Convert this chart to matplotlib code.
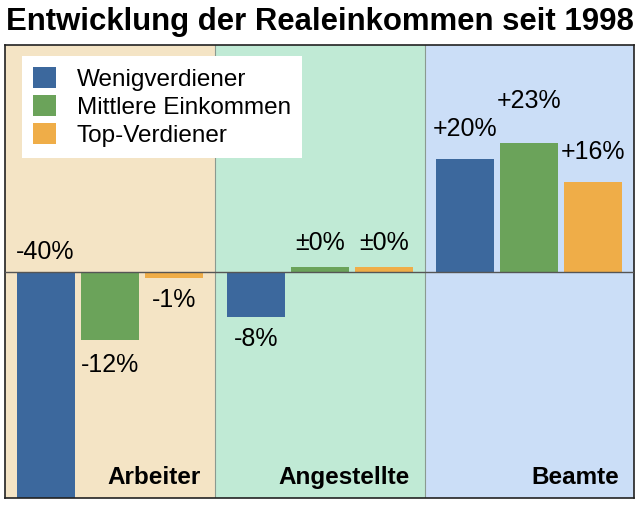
import numpy as np
import matplotlib
matplotlib.use('Agg')
import matplotlib.pyplot as plt

# 数据
gruppen = ['Arbeiter', 'Angestellte', 'Beamte']
serien = ['Wenigverdiener', 'Mittlere Einkommen', 'Top-Verdiener']
werte = {
    'Wenigverdiener': [-40, -8, 20],
    'Mittlere Einkommen': [-12, 0, 23],
    'Top-Verdiener': [-1, 0, 16],
}
labels = {
    'Wenigverdiener': ['-40%', '-8%', '+20%'],
    'Mittlere Einkommen': ['-12%', '±0%', '+23%'],
    'Top-Verdiener': ['-1%', '±0%', '+16%'],
}

farben = ['#3c689d', '#6ba35a', '#efad48']
hintergrund = ['#f4e4c5', '#c0ead5', '#cbdef7']

plt.rcParams['font.family'] = ['Liberation Sans', 'DejaVu Sans']

fig = plt.figure(figsize=(6.4, 5.05), dpi=100)
ax = fig.add_axes([0.008, 0.014, 0.983, 0.897])

x = np.arange(len(gruppen))
breite = 0.277
abstand = 0.305
px = 0.72  # Pixel -> Punkte bei 100 dpi

# 背景区域
for i, c in enumerate(hintergrund):
    ax.axvspan(i - 0.5, i + 0.5, color=c, zorder=0, lw=0)
for i in range(1, len(gruppen)):
    ax.axvline(i - 0.5, color='#8a9a90', lw=0.8, zorder=1)

for j, s in enumerate(serien):
    v = np.array(werte[s], dtype=float)
    h = np.where(v == 0, 0.9, v)  # ±0 als dünner Balken
    pos = x + (j - 1) * abstand
    ax.bar(pos, h, width=breite, color=farben[j], label=s, zorder=2)
    for k, (xx, val) in enumerate(zip(pos, v)):
        txt = labels[s][k]
        if val == -40:
            ax.annotate(txt, (xx - breite / 2, 0), xytext=(-1 * px, 20 * px),
                        textcoords='offset points', ha='left', va='center',
                        fontsize=18, zorder=4)
        elif val >= 0:
            off = 24 if val == 0 else (42 if val == 23 else 30)
            ax.annotate(txt, (xx, h[k]), xytext=(0, off * px),
                        textcoords='offset points', ha='center', va='center',
                        fontsize=18, zorder=4)
        else:
            off = 25 if val == -12 else 22
            ax.annotate(txt, (xx, val), xytext=(0, -off * px),
                        textcoords='offset points', ha='center', va='center',
                        fontsize=18, zorder=4)

ax.axhline(0, color='#555555', lw=1.0, zorder=3)

for i, g in enumerate(gruppen):
    ax.text(i + 0.43, -36.3, g, ha='right', va='center', fontsize=17.5,
            fontweight='bold', zorder=4)

ax.set_xlim(-0.5, 2.5)
ax.set_ylim(-40, 40.3)
ax.set_xticks([])
ax.set_yticks([])
for sp in ax.spines.values():
    sp.set_color('#222222')
    sp.set_linewidth(1.2)

leg = ax.legend(loc='upper left', bbox_to_anchor=(0.027, 0.975), fontsize=17.5,
                frameon=True, fancybox=False, handlelength=0.95, handleheight=0.95,
                handletextpad=0.85, labelspacing=0.17, borderpad=0.45,
                borderaxespad=0.0)
leg.get_frame().set_facecolor('white')
leg.get_frame().set_edgecolor('none')
leg.get_frame().set_alpha(1)

fig.text(0.5, 0.957, 'Entwicklung der Realeinkommen seit 1998', ha='center',
         va='center', fontsize=22.4, fontweight='bold')

fig.savefig('out.png', dpi=100, facecolor='white')
